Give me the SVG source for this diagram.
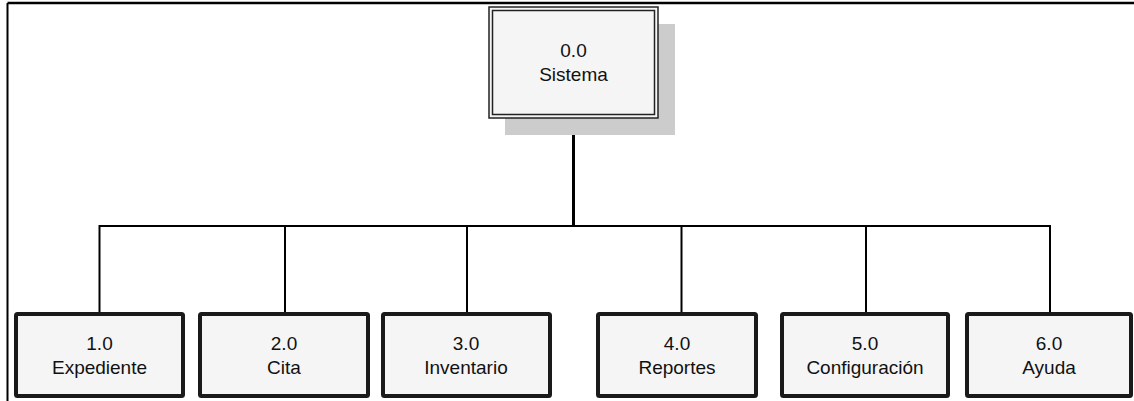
<svg xmlns="http://www.w3.org/2000/svg" width="1134" height="401" viewBox="0 0 1134 401">
<style>
  .box { fill: #f5f5f5; stroke: #1a1a1a; stroke-width: 4; }
  .t { font-family: "Liberation Sans", Arial, sans-serif; font-size: 19px; fill: #111; text-anchor: middle; }
  .conn { stroke: #000; stroke-width: 2; fill: none; }
</style>
<rect width="1134" height="401" fill="#ffffff"/>
<g id="frame">
  <line x1="7.5" y1="3" x2="1134" y2="3" stroke="#000" stroke-width="2.5"/>
  <line x1="7.5" y1="3" x2="7.5" y2="401" stroke="#000" stroke-width="2"/>
</g>
<g id="connectors">
  <line x1="573.5" y1="118" x2="573.5" y2="227" stroke="#000" stroke-width="3"/>
  <line x1="99" y1="226" x2="1050" y2="226" class="conn"/>
  <line x1="99.5" y1="225" x2="99.5" y2="312" class="conn"/>
  <line x1="285" y1="225" x2="285" y2="312" class="conn"/>
  <line x1="467" y1="225" x2="467" y2="312" class="conn"/>
  <line x1="681.5" y1="225" x2="681.5" y2="312" class="conn"/>
  <line x1="866" y1="225" x2="866" y2="312" class="conn"/>
  <line x1="1050" y1="225" x2="1050" y2="312" class="conn"/>
</g>
<g id="node0">
  <rect x="505" y="24" width="170" height="111" fill="#cccccc"/>
  <rect x="489" y="7" width="169" height="111" fill="#f5f5f5" stroke="#222" stroke-width="1.5"/>
  <rect x="492.5" y="10.5" width="162" height="104" fill="none" stroke="#222" stroke-width="1.5"/>
  <text class="t" x="573.5" y="57">0.0</text>
  <text class="t" x="573.5" y="81">Sistema</text>
</g>
<g id="node1">
  <rect class="box" x="16" y="314" width="167" height="82" rx="1.5"/>
  <text class="t" x="99.5" y="350">1.0</text>
  <text class="t" x="99.5" y="374">Expediente</text>
</g>
<g id="node2">
  <rect class="box" x="200" y="314" width="168" height="82" rx="1.5"/>
  <text class="t" x="284" y="350">2.0</text>
  <text class="t" x="284" y="374">Cita</text>
</g>
<g id="node3">
  <rect class="box" x="383" y="314" width="167" height="82" rx="1.5"/>
  <text class="t" x="466" y="350">3.0</text>
  <text class="t" x="466" y="374">Inventario</text>
</g>
<g id="node4">
  <rect class="box" x="598" y="314" width="158" height="82" rx="1.5"/>
  <text class="t" x="677" y="350">4.0</text>
  <text class="t" x="677" y="374">Reportes</text>
</g>
<g id="node5">
  <rect class="box" x="782" y="314" width="166" height="82" rx="1.5"/>
  <text class="t" x="865" y="350">5.0</text>
  <text class="t" x="865" y="374">Configuración</text>
</g>
<g id="node6">
  <rect class="box" x="967" y="314" width="164" height="82" rx="1.5"/>
  <text class="t" x="1049" y="350">6.0</text>
  <text class="t" x="1049" y="374">Ayuda</text>
</g>
</svg>
